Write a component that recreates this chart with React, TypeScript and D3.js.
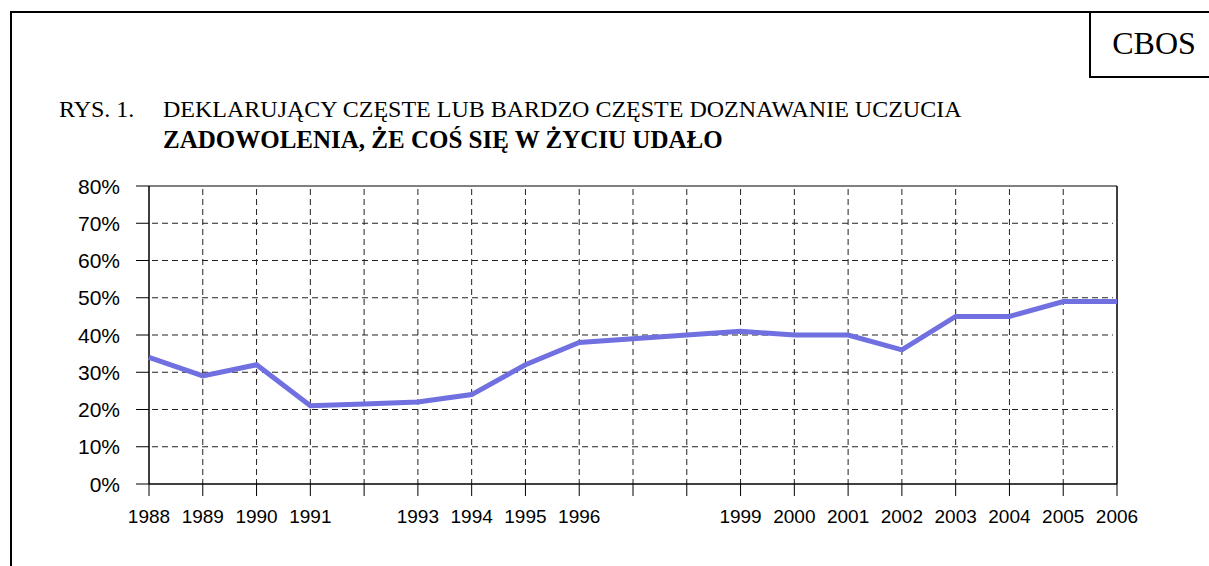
import React from 'react';
import * as d3 from 'd3';

// years on the category axis (every year gets a slot, some have no label)
const years = [1988, 1989, 1990, 1991, 1992, 1993, 1994, 1995, 1996, 1997, 1998, 1999, 2000, 2001, 2002, 2003, 2004, 2005, 2006];
const yearLabels = ['1988', '1989', '1990', '1991', '', '1993', '1994', '1995', '1996', '', '', '1999', '2000', '2001', '2002', '2003', '2004', '2005', '2006'];
const values = [34, 29, 32, 21, 21.5, 22, 24, 32, 38, 39, 40, 41, 40, 40, 36, 45, 45, 49, 49];
const yTicks = [0, 10, 20, 30, 40, 50, 60, 70, 80];

const width = 1209;
const height = 566;
const plot = { left: 149, right: 1117, top: 186, bottom: 484 };

const App: React.FC = () => {
  const x = d3.scalePoint<number>()
    .domain(years)
    .range([plot.left, plot.right]);

  const y = d3.scaleLinear()
    .domain([0, 80])
    .range([plot.bottom, plot.top]);

  const line = d3.line<number>()
    .x((_, i) => x(years[i]) as number)
    .y(d => y(d));

  const dash = '6,4';
  const serif = "'Liberation Serif', 'Times New Roman', serif";
  const sans = "Arial, 'Liberation Sans', sans-serif";

  return (
    <svg width={width} height={height} style={{ position: 'absolute', left: 0, top: 0, background: '#fff' }}>
      {/* outer frame */}
      <path d={`M11,${height + 5} L11,12 L${width + 5},12`} fill="none" stroke="#000" strokeWidth={2} />
      <path d={`M1090,12 L1090,77 L${width + 5},77`} fill="none" stroke="#000" strokeWidth={2} />
      <text x={1154} y={54} textAnchor="middle" fontFamily={serif} fontSize={32}>CBOS</text>

      {/* title */}
      <g fontFamily={serif}>
        <text x={59} y={117} fontSize={24}>RYS. 1.</text>
        <text x={163} y={117} fontSize={24}>DEKLARUJĄCY CZĘSTE LUB BARDZO CZĘSTE DOZNAWANIE UCZUCIA</text>
        <text x={163} y={148} fontSize={25} fontWeight="bold">ZADOWOLENIA, ŻE COŚ SIĘ W ŻYCIU UDAŁO</text>
      </g>

      {/* horizontal grid */}
      {yTicks.slice(1, -1).map(t => (
        <line key={`h${t}`} x1={plot.left + 3} x2={plot.right - 4} y1={y(t)} y2={y(t)}
          stroke="#222" strokeWidth={1} strokeDasharray={dash} />
      ))}
      {/* vertical grid */}
      {years.slice(1, -1).map(yr => (
        <line key={`v${yr}`} x1={x(yr)} x2={x(yr)} y1={plot.top + 3} y2={plot.bottom}
          stroke="#222" strokeWidth={1} strokeDasharray={dash} />
      ))}

      {/* plot frame */}
      <line x1={plot.left} x2={plot.right} y1={plot.top} y2={plot.top} stroke="#000" strokeWidth={1} />
      <line x1={plot.right} x2={plot.right} y1={plot.top} y2={plot.bottom} stroke="#000" strokeWidth={1.5} />
      <line x1={plot.left} x2={plot.left} y1={plot.top} y2={plot.bottom} stroke="#000" strokeWidth={1.5} />
      <line x1={plot.left} x2={plot.right} y1={plot.bottom} y2={plot.bottom} stroke="#000" strokeWidth={1.5} />

      {/* y axis ticks and labels */}
      {yTicks.map(t => (
        <g key={`yt${t}`}>
          <line x1={plot.left - 13} x2={plot.left} y1={y(t)} y2={y(t)} stroke="#000" strokeWidth={1} />
          <text x={120} y={y(t)} dy="0.36em" textAnchor="end" fontFamily={sans} fontSize={21}>{t}%</text>
        </g>
      ))}

      {/* x axis ticks and labels */}
      {years.map((yr, i) => (
        <g key={`xt${yr}`}>
          <line x1={x(yr)} x2={x(yr)} y1={plot.bottom} y2={plot.bottom + 12} stroke="#000" strokeWidth={1} />
          <text x={x(yr)} y={523} textAnchor="middle" fontFamily={sans} fontSize={19}>{yearLabels[i]}</text>
        </g>
      ))}

      {/* series */}
      <path d={line(values) || ''} fill="none" stroke="#7070e0" strokeWidth={5} strokeLinejoin="miter" />
    </svg>
  );
};

export default App;
